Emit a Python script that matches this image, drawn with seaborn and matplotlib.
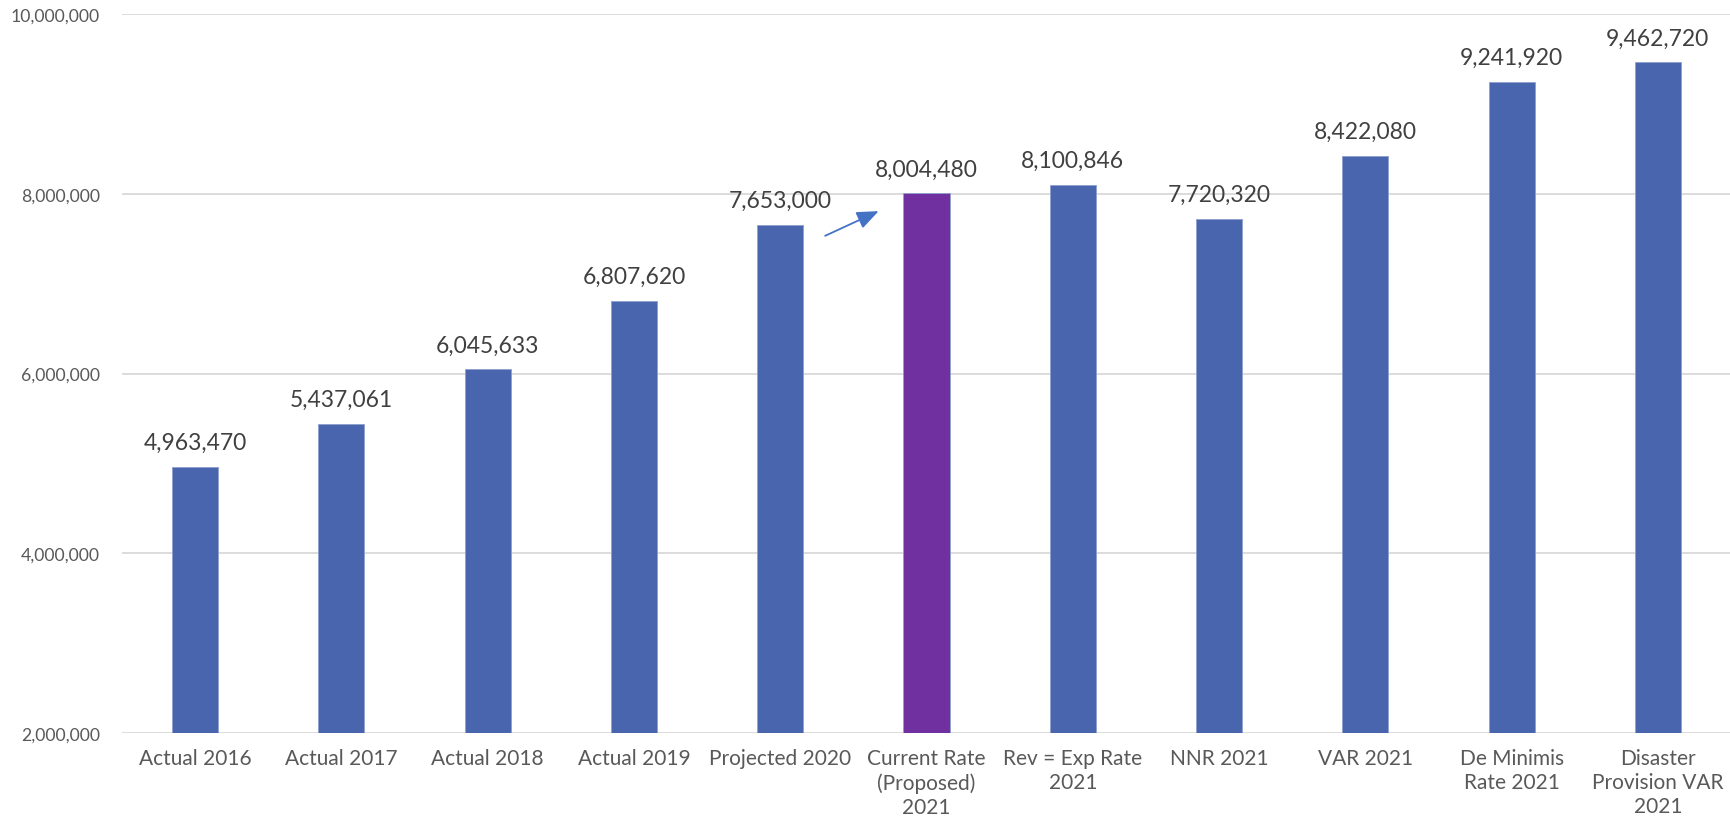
import pandas as pd
import numpy as np
import matplotlib.pyplot as plt
import seaborn as sns
from matplotlib.ticker import FuncFormatter

# Chart data
categories = ['Actual 2016', 'Actual 2017', 'Actual 2018', 'Actual 2019',
              'Projected 2020', 'Current Rate\n(Proposed)\n2021',
              'Rev = Exp Rate\n2021', 'NNR 2021', 'VAR 2021',
              'De Minimis\nRate 2021', 'Disaster\nProvision VAR\n2021']
values = [4963470, 5437061, 6045633, 6807620, 7653000, 8004480,
          8100846, 7720320, 8422080, 9241920, 9462720]
highlight = 'Current Rate\n(Proposed)\n2021'
y_ticks = [2000000, 4000000, 6000000, 8000000, 10000000]

df = pd.DataFrame({'category': categories, 'value': values})

sns.set_theme(style='white')
plt.rcParams['font.family'] = ['Lato', 'DejaVu Sans']

blue = '#4865AD'
purple = '#7030A0'
palette = {c: (purple if c == highlight else blue) for c in categories}

fig = plt.figure(figsize=(17.31, 8.28), dpi=100)
ax = fig.add_axes([122 / 1731, 1 - 734 / 828, 1 - 122 / 1731, (734 - 15) / 828])

sns.barplot(data=df, x='category', y='value', hue='category', palette=palette,
            width=0.315, saturation=1, legend=False, edgecolor='#8EA0CF',
            linewidth=0.6, ax=ax, zorder=3)

ax.set_ylim(y_ticks[0], y_ticks[-1])
ax.set_xlim(-0.5, len(categories) - 0.5)
ax.set_yticks(y_ticks)
ax.yaxis.set_major_formatter(FuncFormatter(lambda v, p: f'{int(v):,}'))
ax.grid(axis='y', color='#D9D9D9', linewidth=1.3, zorder=0)
ax.grid(axis='x', visible=False)
for s in ax.spines.values():
    s.set_visible(False)

ax.set_xlabel('')
ax.set_ylabel('')
ax.tick_params(axis='y', labelsize=12.7, colors='#595959', pad=16, length=0)
ax.tick_params(axis='x', labelsize=15, colors='#595959', pad=11, length=0)
for lbl in ax.get_xticklabels():
    lbl.set_linespacing(1.25)

# Data labels
for i, v in enumerate(values):
    ax.annotate(f'{v:,}', (i, v), xytext=(0, 10), textcoords='offset points',
                ha='center', va='bottom', fontsize=16.5, color='#404040')

# Arrow from Projected 2020 to Current Rate
i_p = categories.index('Projected 2020')
i_c = categories.index(highlight)
ax.annotate('', xy=(i_c - 0.31, values[i_c] - 185000),
            xytext=(i_p + 0.29, values[i_p] - 134000),
            arrowprops=dict(arrowstyle='-|>,head_length=1.1,head_width=0.45',
                            color='#4472C4', lw=1.3))

fig.savefig('out.png', dpi=100)
